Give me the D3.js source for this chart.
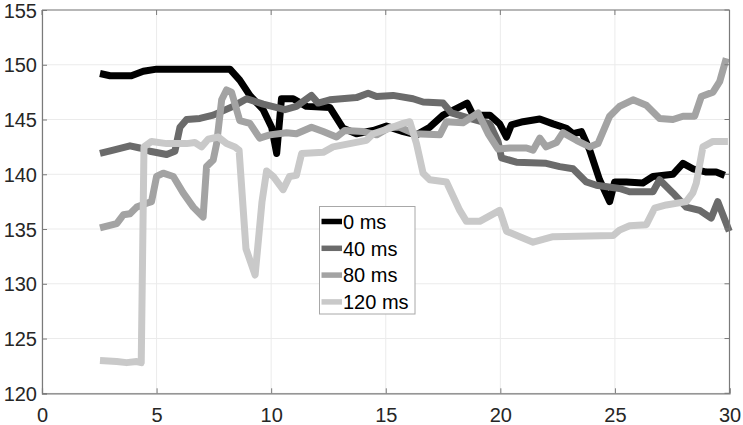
<!DOCTYPE html>
<html><head><meta charset="utf-8">
<script src="https://cdn.jsdelivr.net/npm/d3@7"></script>
<style>html,body{margin:0;padding:0;background:#fff;}svg{display:block;}</style>
</head><body>
<script>
const seriesNames = ["0 ms", "40 ms", "80 ms", "120 ms"];
const seriesColors = ["#000000", "#6b6b6b", "#a3a3a3", "#c9c9c9"];
const xTicks = [0, 5, 10, 15, 20, 25, 30];
const yTicks = [120, 125, 130, 135, 140, 145, 150, 155];

const t0 = [2.53,2.97,3.9,4.42,5.0,8.2,8.63,9.07,9.65,10.02,10.24,10.45,10.96,11.54,12.56,13.14,13.72,14.45,15.03,15.76,16.34,16.92,17.5,18.08,18.55,18.81,19.54,19.97,20.27,20.48,20.99,21.72,22.3,22.88,23.17,23.54,23.9,24.33,24.77,24.99,25.5,26.22,26.66,27.53,27.97,28.4,28.99,29.42,29.79];
const v0 = [149.2,149.0,149.0,149.4,149.6,149.6,148.6,147.2,145.9,144.3,141.9,146.9,146.9,146.2,146.1,144.2,143.7,144.0,144.4,143.9,143.6,144.3,145.4,146.0,146.5,145.4,145.4,144.6,143.4,144.5,144.8,145.05,144.6,144.2,143.7,143.9,142.2,139.5,137.5,139.3,139.3,139.2,139.8,140.0,141.0,140.5,140.2,140.2,139.9];

const t1 = [2.53,3.11,3.84,4.27,4.71,5.44,5.8,6.02,6.31,6.89,7.47,8.34,8.93,9.65,10.6,11.1,11.76,12.05,12.56,13.72,14.23,14.6,15.32,16.19,16.63,17.5,17.87,18.66,19.54,19.9,20.05,20.7,22.0,22.59,23.17,23.75,24.19,25.2,25.64,26.66,26.95,27.53,28.11,28.7,29.2,29.49,29.99];
const v1 = [141.9,142.2,142.6,142.4,142.1,141.8,142.1,144.3,145.0,145.1,145.4,146.2,146.9,146.4,145.9,146.2,147.2,146.5,146.8,147.0,147.4,147.1,147.2,146.9,146.6,146.5,145.6,145.1,144.6,143.0,141.5,141.1,141.0,140.7,140.5,139.3,139.0,138.7,138.4,138.4,139.5,138.3,137.0,136.7,136.0,137.5,134.8];

const t2 = [2.53,3.26,3.55,3.84,4.13,4.57,4.78,5.0,5.29,5.73,6.16,6.6,7.03,7.18,7.47,7.62,7.84,8.05,8.27,8.63,9.07,9.5,9.94,10.67,11.1,11.76,12.27,12.85,13.21,14.01,14.6,15.18,15.61,16.27,17.36,17.65,18.37,19.03,19.47,19.9,20.41,21.14,21.43,21.72,22.0,22.45,22.73,23.32,23.9,24.26,24.77,25.2,25.79,26.37,26.95,27.53,27.97,28.48,28.77,29.28,29.57,29.86];
const v2 = [135.1,135.5,136.3,136.4,137.0,137.35,137.5,139.8,140.1,139.8,138.3,137.0,136.1,140.7,141.3,142.8,146.8,147.7,147.5,144.9,144.65,143.3,143.6,143.8,143.7,144.3,143.9,143.4,144.0,143.9,143.6,144.3,144.3,143.7,143.6,144.8,144.7,145.6,143.7,142.3,142.4,142.4,142.2,143.3,142.5,142.9,143.8,143.1,142.5,142.8,145.3,146.2,146.8,146.3,145.1,145.0,145.3,145.3,147.1,147.5,148.45,150.6];

const t3 = [2.53,3.26,3.69,4.13,4.33,4.45,4.78,5.44,6.31,6.67,6.96,7.25,7.69,8.05,8.42,8.6,8.9,9.3,9.6,9.8,10.09,10.52,10.8,11.1,11.33,12.27,12.7,13.43,14.16,14.45,15.18,15.76,16.05,16.34,16.63,16.92,17.65,18.23,18.52,19.1,19.97,20.27,20.85,21.43,22.3,24.92,25.2,25.64,26.37,26.73,27.24,28.11,28.4,28.55,28.84,29.28,29.93];
const v3 = [123.0,122.9,122.8,122.9,122.8,142.5,143.0,142.8,142.8,142.9,142.5,143.2,143.4,142.8,142.5,142.2,133.2,130.8,137.5,140.3,139.8,138.6,139.8,139.9,141.9,142.0,142.5,142.8,143.1,143.7,144.2,144.65,144.8,142.8,140.1,139.5,139.3,136.7,135.7,135.7,136.7,134.8,134.3,133.8,134.3,134.4,134.9,135.3,135.4,136.9,137.2,137.5,138.3,139.2,142.5,143.0,143.0];

const xs = [t0, t1, t2, t3];
const vs = [v0, v1, v2, v3];

const W = 743, H = 425;
const L = 42, R = 729.5, T = 10, B = 393.3;

const svg = d3.select("body").append("svg").attr("width", W).attr("height", H);
const x = d3.scaleLinear().domain([0, 30]).range([L, R]);
const y = d3.scaleLinear().domain([120, 155]).range([B, T]);

// grid
const grid = svg.append("g");
grid.selectAll("line.gx").data(xTicks).join("line")
  .attr("x1", d => x(d)).attr("x2", d => x(d)).attr("y1", T).attr("y2", B)
  .attr("stroke", "#ebebeb").attr("stroke-width", 1);
grid.selectAll("line.gy").data(yTicks).join("line")
  .attr("y1", d => y(d)).attr("y2", d => y(d)).attr("x1", L).attr("x2", R)
  .attr("stroke", "#ebebeb").attr("stroke-width", 1);

// lines
const line = d3.line().x(d => x(d[0])).y(d => y(d[1]));
xs.forEach((tx, i) => {
  const pts = tx.map((t, j) => [t, vs[i][j]]);
  svg.append("path").datum(pts).attr("d", line)
    .attr("fill", "none").attr("stroke", seriesColors[i])
    .attr("stroke-width", 7).attr("stroke-linejoin", "round").attr("stroke-linecap", "butt");
});

// axes
const axColor = "#7a7a7a";
const xAxis = svg.append("g").attr("transform", `translate(0,${B})`)
  .call(d3.axisBottom(x).tickValues(xTicks).tickSize(-5).tickPadding(0).tickFormat(d3.format("d")));
const yAxis = svg.append("g").attr("transform", `translate(${L},0)`)
  .call(d3.axisLeft(y).tickValues(yTicks).tickSize(-5).tickPadding(0).tickFormat(d3.format("d")));
[xAxis, yAxis].forEach(g => {
  g.select(".domain").attr("stroke", axColor).attr("stroke-width", 1.2);
  g.selectAll(".tick line").attr("stroke", axColor);
  g.selectAll(".tick text").attr("fill", "#262626").attr("font-family", "Liberation Sans, Arial, sans-serif").attr("font-size", 20);
});
xAxis.selectAll(".tick text").attr("y", 28.5).attr("dy", 0);
yAxis.selectAll(".tick text").attr("x", -5).attr("dy", "0.36em");

// top & right box
svg.append("line").attr("x1", L).attr("x2", R).attr("y1", T).attr("y2", T).attr("stroke", axColor).attr("stroke-width", 1.2);
svg.append("line").attr("x1", R).attr("x2", R).attr("y1", T).attr("y2", B).attr("stroke", axColor).attr("stroke-width", 1.2);
svg.selectAll("line.tt").data(xTicks).join("line")
  .attr("x1", d => x(d)).attr("x2", d => x(d)).attr("y1", T).attr("y2", T + 5).attr("stroke", axColor);
svg.selectAll("line.rt").data(yTicks).join("line")
  .attr("y1", d => y(d)).attr("y2", d => y(d)).attr("x1", R).attr("x2", R - 5).attr("stroke", axColor);

// legend
const lg = svg.append("g");
lg.append("rect").attr("x", 319.5).attr("y", 206.5).attr("width", 95.5).attr("height", 107.5)
  .attr("fill", "#fff").attr("stroke", "#a8a8a8").attr("stroke-width", 1);
seriesNames.forEach((n, i) => {
  const cy = 221.5 + i * 26.8;
  lg.append("line").attr("x1", 321.5).attr("x2", 342).attr("y1", cy).attr("y2", cy)
    .attr("stroke", seriesColors[i]).attr("stroke-width", 5.5);
  lg.append("text").attr("x", 343).attr("y", cy + 7.2).text(n)
    .attr("font-family", "Liberation Sans, Arial, sans-serif").attr("font-size", 20).attr("fill", "#000");
});
</script>
</body></html>
